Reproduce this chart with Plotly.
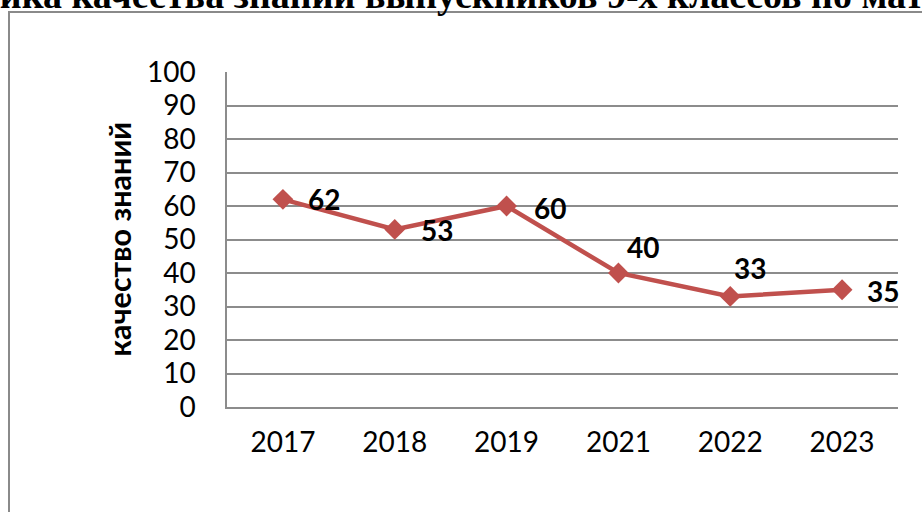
import plotly.graph_objects as go

years = ["2017", "2018", "2019", "2021", "2022", "2023"]
quality = [62, 53, 60, 40, 33, 35]
y_ticks = [0, 10, 20, 30, 40, 50, 60, 70, 80, 90, 100]

title_text = "Динамика качества знаний выпускников 9-х классов по математике"
y_title = "качество знаний"

# label offsets (pixels) relative to each point
label_dx = [41, 42, 43, 25, 20, 41]
label_dy = [0, -1, -2, 26, 28, -1]

W, H = 922, 512
ML, MR, MT, MB = 227, 24, 72, 105
PW, PH = W - ML - MR, H - MT - MB


def px_x(x):
    return (x - ML) / PW


def px_y(y):
    return 1 - (y - MT) / PH


line_color = "#C0504D"
grid_color = "#8C8C8C"
idx = list(range(len(years)))

fig = go.Figure()
fig.add_trace(go.Scatter(
    x=idx, y=quality, mode="lines+markers",
    line=dict(color=line_color, width=4.5),
    marker=dict(symbol="diamond", size=16, color=line_color),
    showlegend=False, hoverinfo="skip",
))

annotations = []
for i, v, dx, dy in zip(idx, quality, label_dx, label_dy):
    annotations.append(dict(
        x=i, y=v, xref="x", yref="y", text=str(v), showarrow=False,
        xshift=dx, yshift=dy, xanchor="center", yanchor="middle",
        font=dict(family="Lato", size=28, color="black", weight="bold"),
    ))

annotations.append(dict(
    x=px_x(118), y=0.5, xref="paper", yref="paper", text=y_title,
    textangle=-90, showarrow=False, xanchor="center", yanchor="middle",
    font=dict(family="Lato", size=30.5, color="black", weight="bold"),
))

annotations.append(dict(
    x=px_x(-117), y=px_y(-5), xref="paper", yref="paper", text=title_text,
    showarrow=False, xanchor="left", yanchor="middle",
    font=dict(family="Liberation Serif", size=38, color="black", weight="bold"),
))

shapes = [dict(
    type="rect", xref="paper", yref="paper",
    x0=px_x(9), x1=px_x(940), y0=px_y(530), y1=px_y(12),
    line=dict(color="#8A8A8A", width=2), fillcolor="rgba(0,0,0,0)", layer="below",
)]

fig.update_layout(
    width=W, height=H,
    margin=dict(l=ML, r=MR, t=MT, b=MB, pad=0, autoexpand=False),
    paper_bgcolor="white", plot_bgcolor="white",
    font=dict(family="Lato", size=28, color="black"),
    annotations=annotations, shapes=shapes,
    xaxis=dict(
        range=[-0.5, len(years) - 0.5], tickvals=idx, ticktext=years,
        showgrid=False, showline=True, linecolor=grid_color, automargin=False,
        linewidth=1.5, ticks="", tickfont=dict(size=28), ticklabelstandoff=10,
        zeroline=False,
    ),
    yaxis=dict(
        range=[0, 100], tickvals=y_ticks, showgrid=True, gridcolor=grid_color,
        gridwidth=1.5, showline=True, linecolor=grid_color, linewidth=1.5,
        automargin=False,
        ticks="", tickfont=dict(size=28), ticklabelstandoff=24, zeroline=False,
    ),
)

fig.write_html(
    "out.html",
    config={"displayModeBar": False},
    post_script="document.body.style.margin='0';document.body.style.overflow='hidden';",
)
